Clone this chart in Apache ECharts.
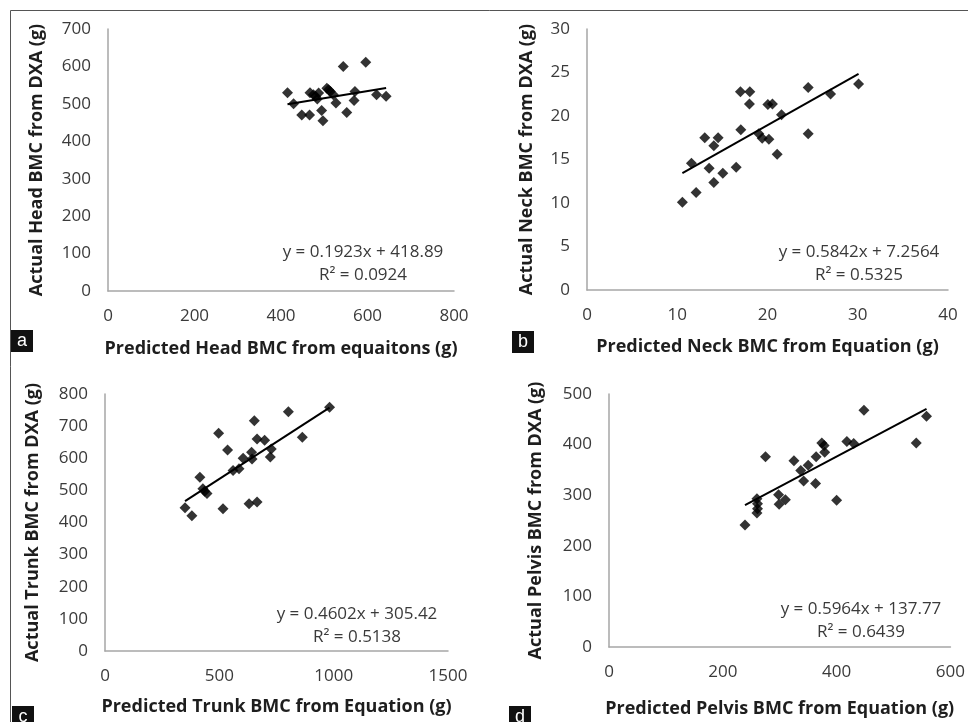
<!DOCTYPE html>
<html>
<head>
<meta charset="utf-8">
<script src="https://cdn.jsdelivr.net/npm/echarts@6/dist/echarts.min.js"></script>
<style>
html,body{margin:0;padding:0;background:#fff;}
#chart{width:968px;height:722px;}
</style>
</head>
<body>
<div id="chart"></div>
<script>
// ---------- Data ----------
var headPredicted = [415,429,448,466,467,475,484,494,497,506,514,521,527,544,552,569,571,596,621,643,487,510,480];
var headActual    = [530,500,470,470,530,524,513,482,455,542,533,524,502,600,477,509,533,611,524,520,529,538,520];
var headTrend = [0.1923, 418.89];
var headR2 = '0.0924';
var headXTicks = [0,200,400,600,800];
var headYTicks = [0,100,200,300,400,500,600,700];

var neckPredicted = [10.57,12.09,11.57,13.05,14.53,14.05,13.53,14.05,15.05,16.53,17.04,17.0,18.04,18.0,19.04,19.41,20.15,20.04,20.55,21.07,21.55,24.51,24.51,26.99,30.09];
var neckActual    = [10.09,11.2,14.58,17.49,17.49,16.57,14.0,12.35,13.43,14.12,18.41,22.79,22.79,21.37,17.95,17.45,17.34,21.33,21.37,15.61,20.14,23.28,17.95,22.52,23.67];
var neckTrend = [0.5842, 7.2564];
var neckR2 = '0.5325';
var neckXTicks = [0,10,20,30,40];
var neckYTicks = [0,5,10,15,20,25,30];

var trunkPredicted = [350,380,415,428,436,446,497,516,536,560,586,604,630,641,643,653,665,665,698,723,727,802,863,982];
var trunkActual    = [446,421,541,505,497,490,678,443,626,562,567,600,458,619,598,717,464,660,656,604,629,745,665,759];
var trunkTrend = [0.4602, 305.42];
var trunkR2 = '0.5138';
var trunkXTicks = [0,500,1000,1500];
var trunkYTicks = [0,100,200,300,400,500,600,700,800];

var pelvisPredicted = [239,260,261,261,260,275,298,299,310,325,337,342,350,363,364,374,378,379,400,418,430,448,540,558];
var pelvisActual    = [241,293,283,273,265,376,301,282,291,368,349,328,359,323,376,403,398,385,290,406,402,468,403,456];
var pelvisTrend = [0.5964, 137.77];
var pelvisR2 = '0.6439';
var pelvisXTicks = [0,200,400,600];
var pelvisYTicks = [0,100,200,300,400,500];

var xTitles = ['Predicted Head BMC from equaitons (g)','Predicted Neck BMC from Equation (g)','Predicted Trunk BMC from Equation (g)','Predicted Pelvis BMC from Equation (g)'];
var yTitles = ['Actual Head BMC from DXA (g)','Actual Neck BMC from DXA (g)','Actual Trunk BMC from DXA (g)','Actual Pelvis BMC from DXA (g)'];
var panelLetters = ['a','b','c','d'];

// ---------- Build ----------
var panels = [
  {px: headPredicted, py: headActual, trend: headTrend, r2: headR2, xt: headXTicks, yt: headYTicks,
   grid:{left:108, top:29, width:346, height:262}, yGap:62, xGap:49, eq:{x:363, y:252}, tag:{x:11, y:330}},
  {px: neckPredicted, py: neckActual, trend: neckTrend, r2: neckR2, xt: neckXTicks, yt: neckYTicks,
   grid:{left:587, top:29, width:361, height:261}, yGap:51, xGap:48, eq:{x:859, y:252}, tag:{x:512, y:331}},
  {px: trunkPredicted, py: trunkActual, trend: trunkTrend, r2: trunkR2, xt: trunkXTicks, yt: trunkYTicks,
   grid:{left:105, top:394, width:343, height:257}, yGap:63, xGap:47, eq:{x:357, y:614}, tag:{x:12, y:706}},
  {px: pelvisPredicted, py: pelvisActual, trend: pelvisTrend, r2: pelvisR2, xt: pelvisXTicks, yt: pelvisYTicks,
   grid:{left:609, top:394, width:342, height:253}, yGap:64, xGap:53, eq:{x:861, y:609}, tag:{x:509, y:706}}
];

var FONT = '"Open Sans", "Liberation Sans", sans-serif';
var grids = [], xAxes = [], yAxes = [], series = [], graphics = [];

graphics.push({type:'rect', shape:{x:10.5, y:10.5, width:1000, height:1000}, style:{fill:null, stroke:'#555', lineWidth:1}, silent:true});

function plain(v){ return String(v); }

panels.forEach(function(p, i){
  grids.push(p.grid);
  var axisLine = {show:true, lineStyle:{color:'#a6a6a6', width:1.5}};
  xAxes.push({
    type:'value', gridIndex:i, min:p.xt[0], max:p.xt[p.xt.length-1], interval:p.xt[1]-p.xt[0],
    axisLine:axisLine, axisTick:{show:false}, splitLine:{show:false},
    axisLabel:{color:'#3a3a3a', fontSize:17, fontFamily:FONT, margin:17, formatter:plain},
    name:xTitles[i], nameLocation:'middle', nameGap:p.xGap,
    nameTextStyle:{color:'#1e1e1e', fontSize:18, fontWeight:'bold', fontFamily:FONT}
  });
  yAxes.push({
    type:'value', gridIndex:i, min:p.yt[0], max:p.yt[p.yt.length-1], interval:p.yt[1]-p.yt[0],
    axisLine:axisLine, axisTick:{show:false}, splitLine:{show:false},
    axisLabel:{color:'#3a3a3a', fontSize:17, fontFamily:FONT, margin:17, formatter:plain},
    name:yTitles[i], nameLocation:'middle', nameGap:p.yGap,
    nameTextStyle:{color:'#1e1e1e', fontSize:18, fontWeight:'bold', fontFamily:FONT}
  });
  var pts = p.px.map(function(x, k){ return [x, p.py[k]]; });
  series.push({
    type:'scatter', xAxisIndex:i, yAxisIndex:i, data:pts, symbol:'diamond', symbolSize:11,
    itemStyle:{color:'#000'}, silent:true, z:3
  });
  var xmin = Math.min.apply(null, p.px), xmax = Math.max.apply(null, p.px);
  series.push({
    type:'line', xAxisIndex:i, yAxisIndex:i, showSymbol:false, silent:true, z:2,
    data:[[xmin, p.trend[0]*xmin + p.trend[1]], [xmax, p.trend[0]*xmax + p.trend[1]]],
    lineStyle:{color:'#000', width:2}
  });
  var sign = p.trend[1] >= 0 ? ' + ' : ' - ';
  graphics.push({type:'text', x:p.eq.x, y:p.eq.y, silent:true,
    style:{text:'y = ' + p.trend[0] + 'x' + sign + Math.abs(p.trend[1]), fill:'#3a3a3a', font:'17px ' + FONT, textAlign:'center', textVerticalAlign:'middle'}});
  graphics.push({type:'text', x:p.eq.x, y:p.eq.y + 23, silent:true,
    style:{text:'R\u00B2 = ' + p.r2, fill:'#3a3a3a', font:'17px ' + FONT, textAlign:'center', textVerticalAlign:'middle'}});
  graphics.push({type:'rect', shape:{x:p.tag.x, y:p.tag.y, width:22, height:22}, style:{fill:'#111'}, silent:true});
  graphics.push({type:'text', x:p.tag.x + 11, y:p.tag.y + 11, silent:true,
    style:{text:panelLetters[i], fill:'#fff', font:'18px "Liberation Sans", Arial, sans-serif', textAlign:'center', textVerticalAlign:'middle'}});
});

var chart = echarts.init(document.getElementById('chart'), null, {renderer:'canvas'});
chart.setOption({
  animation:false,
  backgroundColor:'#fff',
  grid:grids, xAxis:xAxes, yAxis:yAxes, series:series, graphic:graphics
});
</script>
</body>
</html>
